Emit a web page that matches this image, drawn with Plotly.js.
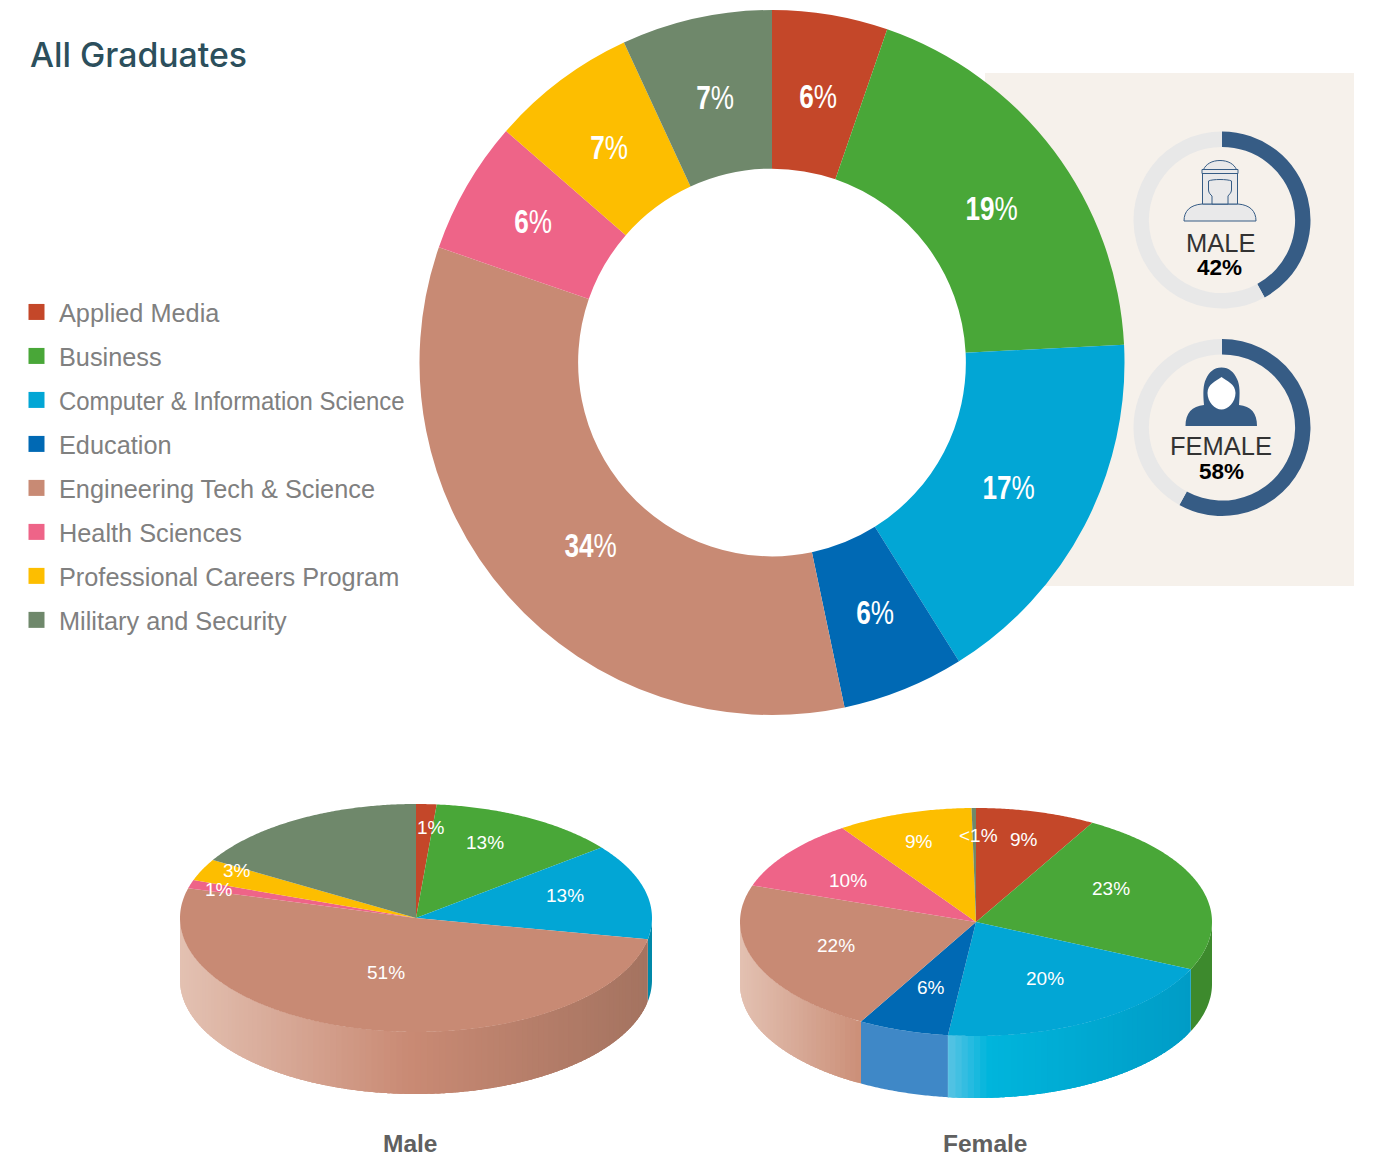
<!DOCTYPE html>
<html>
<head>
<meta charset="utf-8">
<title>All Graduates</title>
<script src="https://cdn.plot.ly/plotly-3.0.1.min.js"></script>
<style>html,body{margin:0;padding:0;background:#fff}#chart{width:1384px;height:1158px}</style>
</head>
<body>
<div id="chart"></div>
<script>
// ---- data ----
const categories = ["Applied Media","Business","Computer & Information Science","Education","Engineering Tech & Science","Health Sciences","Professional Careers Program","Military and Security"];
const colors = ["#c44729","#49a738","#02a6d5","#0069b4","#c88a74","#ee6488","#fdbe00","#6f886b"];
const allValues = [5.3,18.9,16.9,5.6,33.6,6.1,6.7,6.9];
const allLabels = ["6","19","17","6","34","6","7","7"];
const maleValues = [1.4,13,13.6,0,51.2,1.2,3.1,16.5];
const femaleValues = [8.2,23.6,20.1,6.2,22.1,10.2,9.3,0.3];
const maleShare = [42,58];
const femaleShare = [58,42];
const maleTexts = ["1%","13%","13%","51%","1%","3%"];
const femaleTexts = ["<1%","9%","23%","20%","6%","22%","10%","9%"];

// ---- layout helpers (pixel coordinates on a 1384x1158 canvas) ----
const W = 1384, H = 1158;
function domainFor(cx, cy, r){
  return {x:[(cx-r)/W,(cx+r)/W], y:[1-(cy+r)/H,1-(cy-r)/H]};
}
const malePie   = {cx:416, cy:918, rx:236, ry:114, depth:62,
  walls:{2:[[0,"#0088a8"]], 4:[[0,"#e3c1b2"],[0.49,"#c98a74"],[1,"#a47360"]]}};
const femalePie = {cx:976, cy:922, rx:236, ry:114, depth:62,
  walls:{1:[[0,"#3d8a2d"]], 2:[[0,"#57c3e4"],[0.16,"#00b5dc"],[1,"#009cc6"]], 3:[[0,"#3f88c7"]], 4:[[0,"#e3c1b2"],[1,"#cb8f78"]]}};
const allLabelPos = [[818,96],[991,208],[1008,487],[875,612],[590,545],[533,221],[609,147],[715,97]];
const maleLabelPos = [[431,827],[485,842],[565,895],[386,972],[219,889],[237,870]];
const femaleLabelPos = [[978,835],[1024,839],[1111,888],[1045,978],[931,987],[836,945],[848,880],[919,841]];

function hexRgb(h){return [1,3,5].map(i=>parseInt(h.substr(i,2),16));}
function lerpColor(stops,t){
  if(stops.length===1) return stops[0][1];
  for(let i=1;i<stops.length;i++){
    if(t<=stops[i][0]){
      const a=stops[i-1],b=stops[i],f=(t-a[0])/(b[0]-a[0]);
      const A=hexRgb(a[1]),B=hexRgb(b[1]);
      return "rgb("+A.map((v,k)=>Math.round(v+(B[k]-v)*f)).join(",")+")";
    }
  }
  return stops[stops.length-1][1];
}
function pt(p,deg,dy){
  const a=deg*Math.PI/180;
  return [p.cx+p.rx*Math.sin(a), p.cy-p.ry*Math.cos(a)+(dy||0)];
}
function polyTrace(points,color){
  const xs=points.map(q=>q[0]), ys=points.map(q=>q[1]);
  xs.push(xs[0]); ys.push(ys[0]);
  return {type:"scatter",mode:"lines",x:xs,y:ys,fill:"toself",fillcolor:color,
    line:{width:0,simplify:false},hoverinfo:"skip",showlegend:false,xaxis:"x",yaxis:"y"};
}
function pie3d(p,values){
  const total=values.reduce((a,b)=>a+b,0);
  const walls=[],tops=[];
  let c=0;
  values.forEach((v,i)=>{
    const a0=c/total*360, a1=(c+v)/total*360; c+=v;
    if(v<=0) return;
    const s=Math.max(a0,90), e=Math.min(a1,270);
    if(e>s && p.walls[i]){
      const stops=p.walls[i];
      const xsAll=[]; for(let a=s;a<=e+1e-6;a+=0.5) xsAll.push(pt(p,a)[0]);
      const xmin=Math.min(...xsAll), xmax=Math.max(...xsAll);
      const step=stops.length===1?(e-s):Math.min(1.5,e-s);
      // each strip overlaps the next one, so later strips overpaint it with no seam
      for(let a=s;a<e-1e-6;a+=step){
        const b=stops.length===1?e:Math.min(a+step*2.5,e), arc=[];
        const dn=Math.max(2,Math.ceil((b-a)/0.5));
        for(let k=0;k<=dn;k++) arc.push(a+(b-a)*k/dn);
        const top=arc.map(t=>pt(p,t,0)), bot=arc.slice().reverse().map(t=>pt(p,t,p.depth));
        const xm=pt(p,a+step/2)[0];
        const tt=(xm-xmin)/(xmax-xmin||1); // 0 at the left end of the wall, 1 at the right end
        walls.push(polyTrace(top.concat(bot),lerpColor(stops,tt)));
      }
    }
    const pts=[[p.cx,p.cy]];
    const n=Math.max(2,Math.ceil((a1-a0)/0.5));
    for(let k=0;k<=n;k++) pts.push(pt(p,a0+(a1-a0)*k/n));
    tops.push(polyTrace(pts,colors[i]));
  });
  return walls.concat(tops);
}

// ---- traces ----
const traces=[];
traces.push(...pie3d(malePie,maleValues));
traces.push(...pie3d(femalePie,femaleValues));
categories.forEach((name,i)=>{
  traces.push({type:"scatter",mode:"markers",x:[null],y:[null],name:name,legendgroup:name,
    marker:{symbol:"square",size:16,color:colors[i]},xaxis:"x",yaxis:"y",hoverinfo:"skip"});
});
traces.push({type:"pie",labels:categories,values:allValues,textinfo:"none",sort:false,direction:"clockwise",rotation:0,
  hole:0.55,domain:domainFor(772,362.5,352.5),marker:{colors:colors,line:{width:0}},
  showlegend:false,hoverinfo:"label+percent"});
[[maleShare,220,"Male"],[femaleShare,427.5,"Female"]].forEach(([vals,cy,nm])=>{
  traces.push({type:"pie",labels:[nm,"Other"],values:vals,textinfo:"none",sort:false,direction:"clockwise",rotation:0,
    hole:0.826,domain:domainFor(1222,cy,88.5),marker:{colors:["#365c85","#e8e8e8"],line:{width:0}},
    showlegend:false,hoverinfo:"skip"});
});

// ---- annotations ----
function note(x,y,text,size,color){
  return {xref:"x",yref:"y",x:x,y:y,text:text,showarrow:false,xanchor:"center",yanchor:"middle",
    font:{family:"'Liberation Sans',Arial,sans-serif",size:size,color:color}};
}
const annotations=[];
allLabels.forEach((t,i)=>annotations.push(note(allLabelPos[i][0],allLabelPos[i][1],"<b>"+t+"</b>%",33.5,"#ffffff")));
const condensedCount=allLabels.length;
maleTexts.forEach((t,i)=>annotations.push(note(maleLabelPos[i][0],maleLabelPos[i][1],t,19,"#ffffff")));
femaleTexts.forEach((t,i)=>annotations.push(note(femaleLabelPos[i][0],femaleLabelPos[i][1],t.replace("<","&lt;"),19,"#ffffff")));
annotations.push(note(410,1143,"<b>Male</b>",24.5,"#606060"));
annotations.push(note(985,1143,"<b>Female</b>",24.5,"#606060"));
annotations.push(note(1220,243,"MALE",25.5,"#333333"));
annotations.push(note(1219,267,"<b>42%</b>",22.5,"#000000"));
annotations.push(note(1221,446,"FEMALE",25.5,"#333333"));
annotations.push(note(1221,471,"<b>58%</b>",22.5,"#000000"));

// ---- panel and person icons ----
const blue="#365c85";
const shapes=[
  {type:"rect",xref:"x",yref:"y",x0:985,x1:1354,y0:73,y1:586,fillcolor:"#f6f1eb",line:{width:0},layer:"below"},
  {type:"path",xref:"x",yref:"y",layer:"above",fillcolor:"#e9e9ea",line:{color:blue,width:1},
    path:"M1184,221 C1184,211 1190,205 1202,204 L1238,204 C1250,205 1256,211 1256,221 Z"},
  {type:"path",xref:"x",yref:"y",layer:"above",fillcolor:"#e9e9ea",line:{color:blue,width:1},
    path:"M1202.5,172 L1237.5,172 L1237.5,204 L1202.5,204 Z"},
  {type:"path",xref:"x",yref:"y",layer:"above",fillcolor:"#e9e9ea",line:{color:blue,width:1},
    path:"M1203.5,169.5 C1206,164 1212,160.5 1220,160.5 C1228,160.5 1234,164 1236.5,169.5 Z"},
  {type:"path",xref:"x",yref:"y",layer:"above",fillcolor:"#e9e9ea",line:{color:blue,width:1},
    path:"M1202,169.5 L1238,169.5 L1238,173.5 L1202,173.5 Z"},
  {type:"path",xref:"x",yref:"y",layer:"above",fillcolor:"#e9e9ea",line:{color:blue,width:1},
    path:"M1208.5,181 C1212,179 1228,179 1231.5,181 L1231.5,190 C1231.5,193 1228.5,195 1228,196 L1228,204 L1212,204 L1212,196 C1211,195 1208.5,193 1208.5,190 Z"},
  {type:"path",xref:"x",yref:"y",layer:"above",fillcolor:blue,line:{width:0},
    path:"M1185.5,426 C1185.5,413 1192,406 1204,405 C1203,393 1203,385 1206,379 C1209,372 1214,367.5 1221.5,367.5 C1229,367.5 1234,372 1237,379 C1240,385 1240,393 1239,405 C1251,406 1257,413 1257,426 Z"},
  {type:"path",xref:"x",yref:"y",layer:"above",fillcolor:"#ffffff",line:{width:0},
    path:"M1221.5,377 C1227,381 1235.5,384 1235.5,393 C1235.5,402 1228,409.5 1221.5,409.5 C1215,409.5 1207.5,402 1207.5,393 C1207.5,384 1216,381 1221.5,377 Z"}
];

const layout={
  width:W,height:H,margin:{l:0,r:0,t:0,b:0,pad:0},paper_bgcolor:"#ffffff",plot_bgcolor:"rgba(0,0,0,0)",
  title:{text:"All Graduates",x:30/W,xref:"paper",xanchor:"left",y:1-55/H,yref:"paper",yanchor:"middle",
    font:{family:"Inter,'Liberation Sans',Arial,sans-serif",size:33.8,color:"#2c4f5c",weight:500}},
  xaxis:{range:[0,W],visible:false,fixedrange:true,domain:[0,1]},
  yaxis:{range:[H,0],visible:false,fixedrange:true,domain:[0,1]},
  showlegend:true,
  legend:{x:14/W,y:1-289/H,xanchor:"left",yanchor:"top",tracegroupgap:8.1,itemwidth:35,bgcolor:"rgba(0,0,0,0)",itemclick:false,itemdoubleclick:false,
    font:{family:"'Liberation Sans',Arial,sans-serif",size:25.3,color:"#808080"}},
  annotations:annotations,shapes:shapes,hovermode:"closest"
};
// Narrow a text element horizontally around its own centre; no condensed face is installed.
function squeeze(el,sx,alignLeft){
  const b=el.getBBox();
  const ox=alignLeft?b.x:b.x+b.width/2;
  el.setAttribute("transform","translate("+ox+",0) scale("+sx+",1) translate("+(-ox)+",0)");
}
Plotly.newPlot("chart",traces,layout,{displayModeBar:false,responsive:false}).then(gd=>{
  gd.querySelectorAll(".annotation").forEach(g=>{
    if(+g.getAttribute("data-index")<condensedCount){
      const t=g.querySelector("text"); if(t) squeeze(t,0.78,false);
    }
  });
  gd.querySelectorAll(".legendtext").forEach(t=>{
    if(t.textContent.indexOf("Computer")===0) squeeze(t,0.946,true);
  });
});
</script>
</body>
</html>
